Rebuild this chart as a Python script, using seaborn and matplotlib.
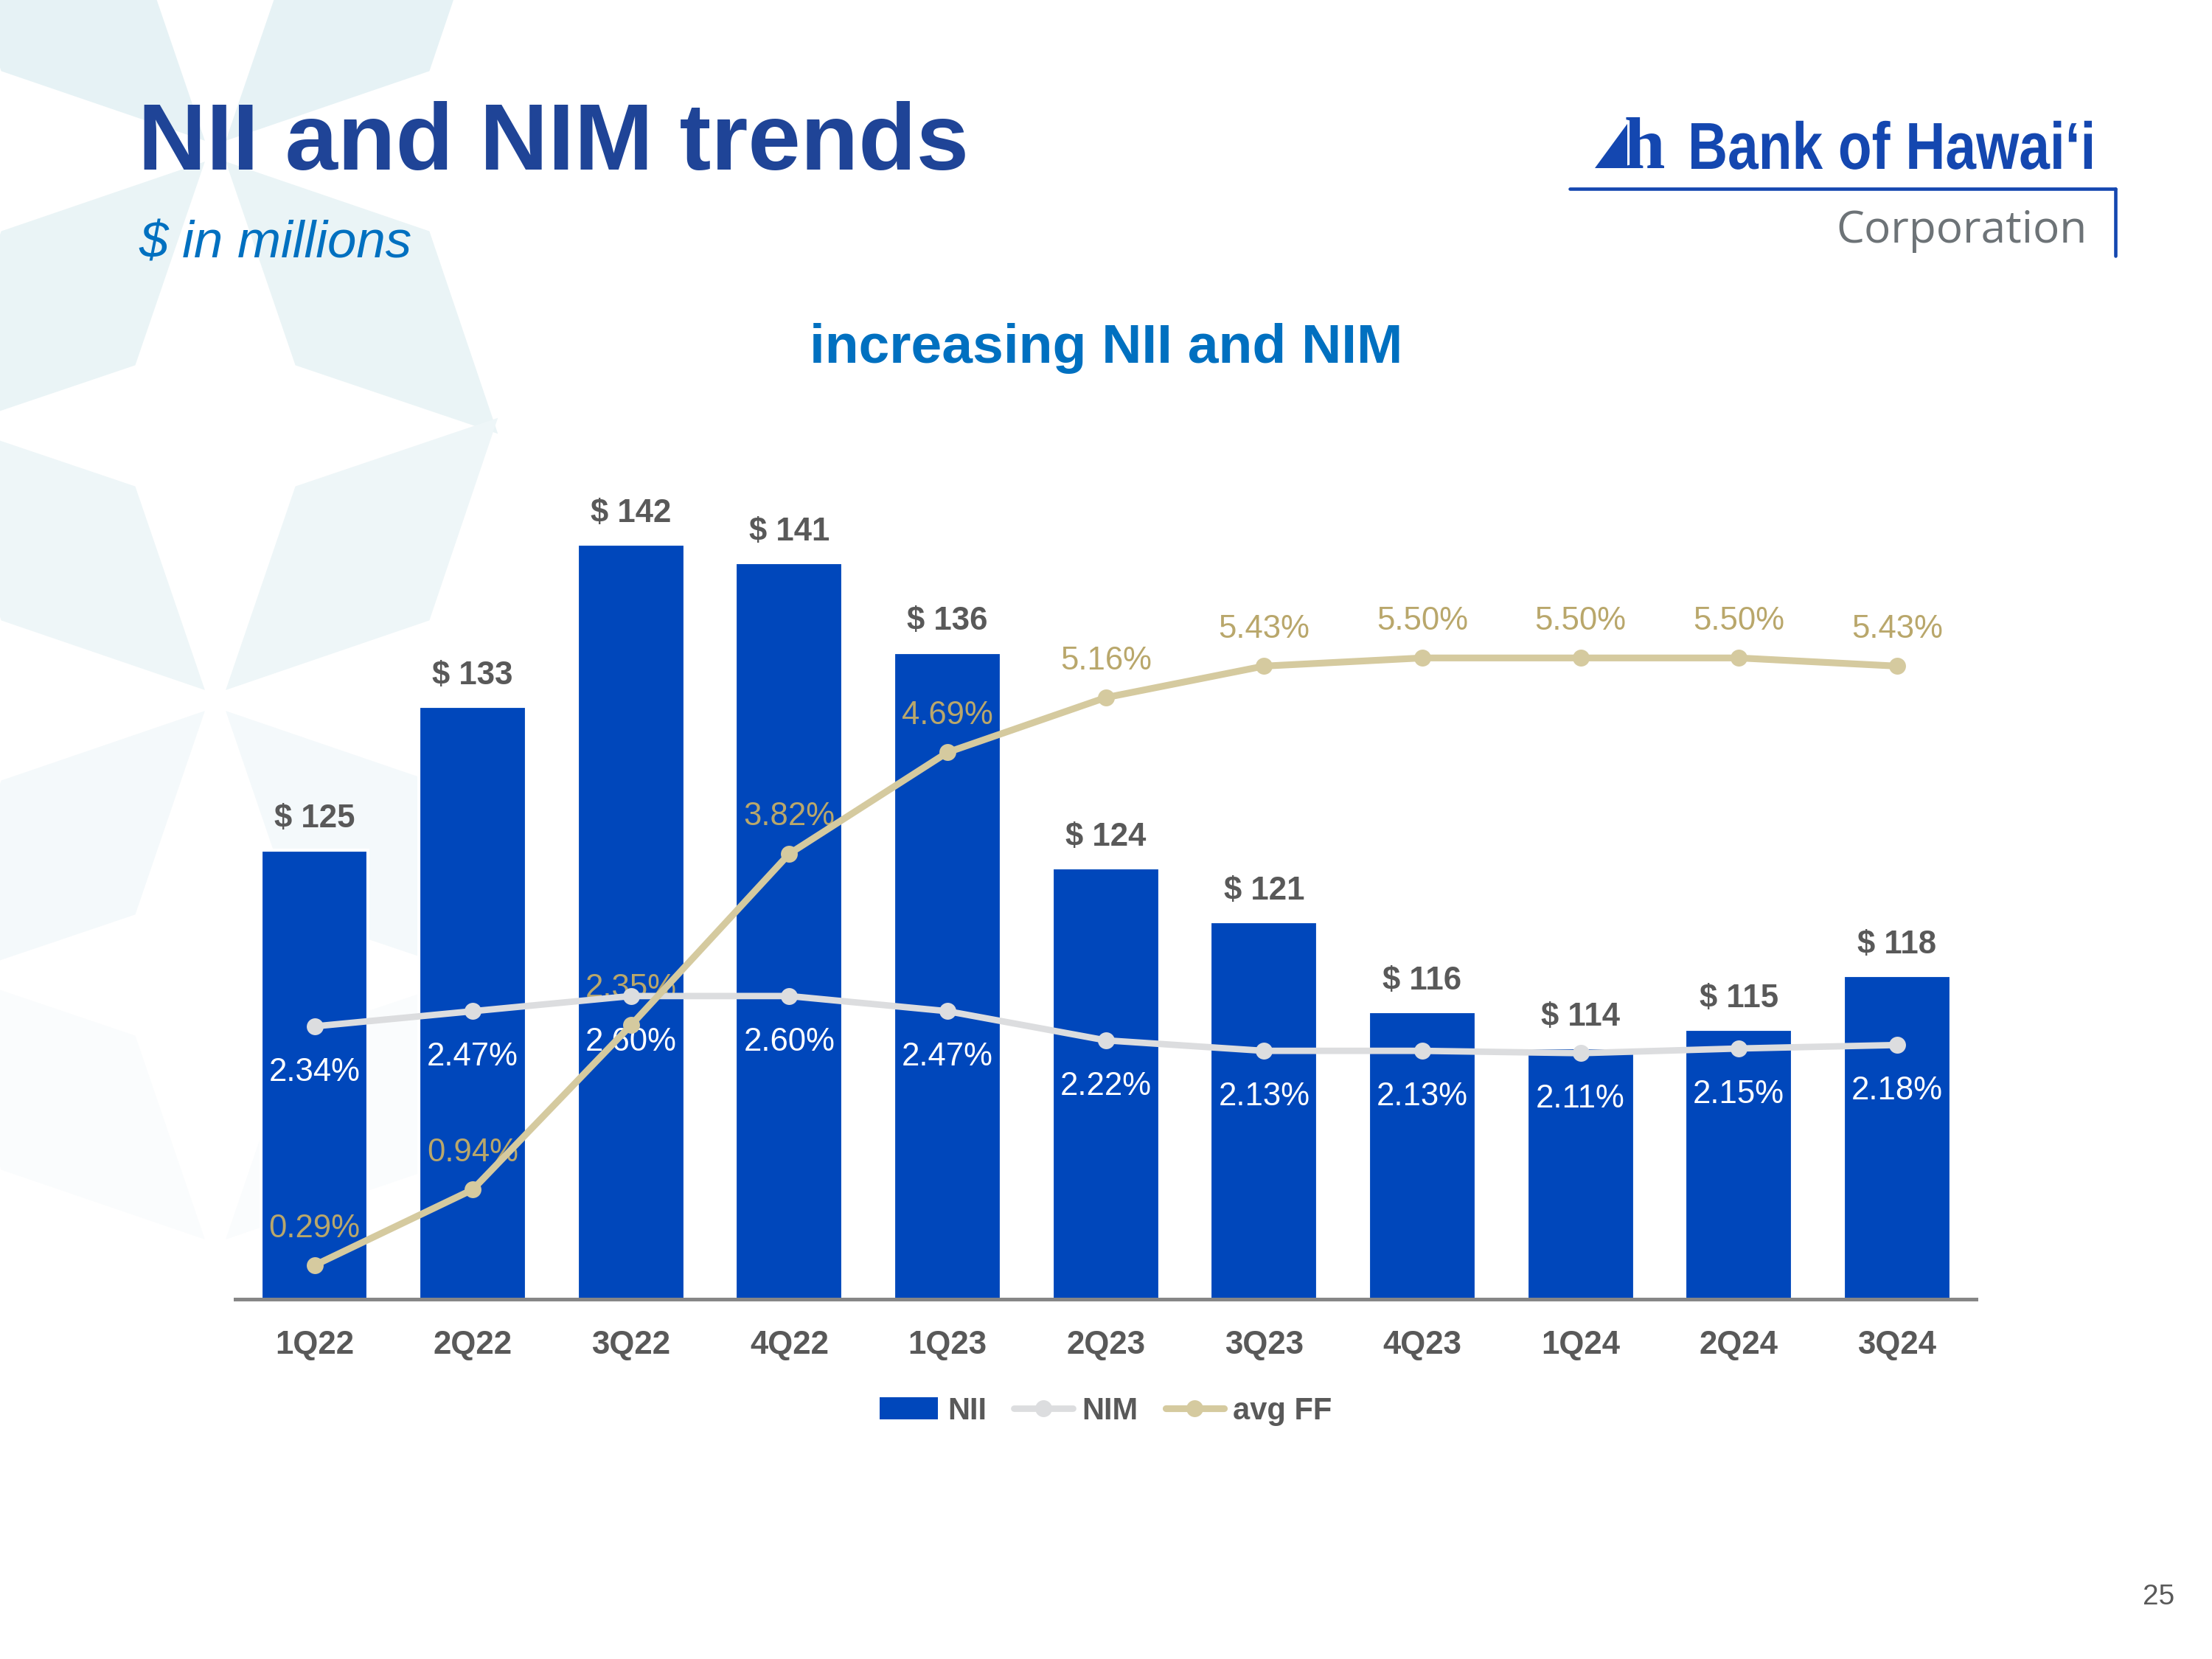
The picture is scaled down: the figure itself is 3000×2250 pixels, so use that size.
import matplotlib
matplotlib.use("Agg")
import matplotlib.pyplot as plt
from matplotlib.patches import Polygon, Patch, PathPatch
from matplotlib.lines import Line2D
from matplotlib.textpath import TextPath
from matplotlib.font_manager import FontProperties
from matplotlib.transforms import Affine2D
from matplotlib.colors import to_rgb
import seaborn as sns
import numpy as np
import pandas as pd

# ---- data ----
quarters = ["1Q22", "2Q22", "3Q22", "4Q22", "1Q23", "2Q23", "3Q23", "4Q23", "1Q24", "2Q24", "3Q24"]
nii = [125, 133, 142, 141, 136, 124, 121, 116, 114, 115, 118]
nim = [2.34, 2.47, 2.60, 2.60, 2.47, 2.22, 2.13, 2.13, 2.11, 2.15, 2.18]
avg_ff = [0.29, 0.94, 2.35, 3.82, 4.69, 5.16, 5.43, 5.50, 5.50, 5.50, 5.43]

C = {
    'bar': '#0047BB', 'nim': '#DCDDDF', 'ff': '#D5CA9F', 'ff_txt': '#B9A76B',
    'title': '#1F4497', 'sub': '#0070C0', 'gray': '#595959', 'axis': '#868686',
    'logo': '#1447B0', 'corp': '#6D7377', 'star': '#E6F2F5',
}

sns.set_theme(style="white")
plt.rcParams['font.family'] = ['Liberation Sans', 'DejaVu Sans']

W, H = 3000, 2250
fig = plt.figure(figsize=(10, 7.5), dpi=300, facecolor='white')

# background star pattern (decorative, pixel coords of the slide)
bg = fig.add_axes([0, 0, 1, 1], zorder=-5)
bg.set_xlim(0, W)
bg.set_ylim(H, 0)
bg.axis('off')
base = np.array(to_rgb(C['star']))
for cx, cy in [(292, 205), (292, 950), (292, 1695)]:
    for ang in [-45, -135, 45, 135]:
        a = np.deg2rad(ang)
        pts = []
        for r, da in [(20, 0), (310, -24.5), (542, 0), (310, 24.5)]:
            b = a + np.deg2rad(da)
            pts.append((cx + r * np.cos(b), cy + r * np.sin(b)))
        yc = np.mean([p[1] for p in pts])
        t = np.clip(yc / 1800, 0, 1) ** 1.3
        col = base * (1 - t) + np.ones(3) * t
        bg.add_patch(Polygon(pts, closed=True, facecolor=col, edgecolor='none'))

# ---- chart ----
df = pd.DataFrame({'quarter': quarters, 'NII': nii, 'NIM': nim, 'avg FF': avg_ff})
x = np.arange(len(df))

ax = fig.add_axes([0.1064, 0.2169, 0.787, 0.5622])
ax.patch.set_alpha(0)
sns.barplot(data=df, x='quarter', y='NII', color=C['bar'], width=0.68,
            saturation=1, ax=ax)
ax.set_xlim(-0.5, len(df) - 0.5)
ax.set_ylim(100, 151.9)
ax.set_xlabel('')
ax.set_ylabel('')
ax.set_yticks([])
ax.tick_params(axis='x', length=0, pad=10, labelsize=10.5, labelcolor=C['gray'])
for lbl in ax.get_xticklabels():
    lbl.set_fontweight('bold')
for s in ['left', 'right', 'top']:
    ax.spines[s].set_visible(False)
ax.spines['bottom'].set_color(C['axis'])
ax.spines['bottom'].set_linewidth(1.2)

for xi, v in zip(x, nii):
    ax.annotate(f"$ {v}", (xi, v), xytext=(0, 10), textcoords='offset points',
                ha='center', va='center', fontsize=10.5, fontweight='bold', color=C['gray'])

ax2 = ax.twinx()
sns.lineplot(x=x, y=df['NIM'].values, ax=ax2, color=C['nim'], linewidth=2.1,
             marker='o', markersize=5.5, markeredgewidth=0, sort=False, zorder=3)
sns.lineplot(x=x, y=df['avg FF'].values, ax=ax2, color=C['ff'], linewidth=2.2,
             marker='o', markersize=5.5, markeredgewidth=0, sort=False, zorder=3)
ax2.set_ylim(0, 8)
ax2.set_yticks([])
ax2.set_ylabel('')
for s in ax2.spines.values():
    s.set_visible(False)

for xi, v in zip(x, nim):
    ax2.annotate(f"{v:.2f}%", (xi, v), xytext=(0, -15), textcoords='offset points',
                 ha='center', va='center', fontsize=10.5, color='white', zorder=1)
for xi, v in zip(x, avg_ff):
    ax2.annotate(f"{v:.2f}%", (xi, v), xytext=(0, 12), textcoords='offset points',
                 ha='center', va='center', fontsize=10.5, color=C['ff_txt'], zorder=1)

handles = [
    Patch(facecolor=C['bar'], edgecolor='none'),
    Line2D([], [], color=C['nim'], lw=2.1, marker='o', ms=5.5, mew=0),
    Line2D([], [], color=C['ff'], lw=2.2, marker='o', ms=5.5, mew=0),
]
leg = fig.legend(handles, ['NII', 'NIM', 'avg FF'], loc='center', bbox_to_anchor=(0.5, 0.1495),
                 ncol=3, frameon=False, handlelength=1.9, handletextpad=0.3,
                 columnspacing=0.9, prop={'size': 10, 'weight': 'bold'})
for t in leg.get_texts():
    t.set_color(C['gray'])

# ---- slide texts ----
fig.text(187 / W, 1 - 230 / H, "NII and NIM trends", fontsize=30.8, fontweight='bold',
         color=C['title'], ha='left', va='baseline')
fig.text(188 / W, 1 - 350 / H, "$ in millions", fontsize=17, style='italic',
         color=C['sub'], ha='left', va='baseline')
fig.text(0.5, 1 - 492 / H, "increasing NII and NIM", fontsize=18, fontweight='bold',
         color=C['sub'], ha='center', va='baseline')
fig.text(2928 / W, 1 - 2166 / H, "25", fontsize=9.3, color=C['gray'], ha='center', va='center')

# logo
bg.add_patch(Polygon([(2163, 228), (2207, 228), (2207, 168)], closed=True,
                     facecolor=C['logo'], edgecolor='none'))
fig.text(2203 / W, 1 - 228 / H, "h", fontsize=24, fontweight='bold', color=C['logo'],
         family=['Liberation Serif', 'DejaVu Serif'], ha='left', va='baseline')
logo_path = TextPath((0, 0), "Bank of Hawaiʻi", size=90,
                     prop=FontProperties(family='Liberation Sans', weight='bold'))
ext = logo_path.get_extents()
sx = 543 / ext.width
bg.add_patch(PathPatch(logo_path, facecolor=C['logo'], edgecolor='none',
                       transform=Affine2D().translate(-ext.x0, 0).scale(sx, -1)
                       .translate(2294, 229) + bg.transData))
fig.add_artist(Line2D([2129 / W, 2869 / W], [1 - 256 / H, 1 - 256 / H], color=C['logo'], lw=1.1))
fig.add_artist(Line2D([2869 / W, 2869 / W], [1 - 256 / H, 1 - 347 / H], color=C['logo'], lw=1.1))
fig.text(2831 / W, 1 - 329 / H, "Corporation", fontsize=14.5, color=C['corp'],
         family=['Open Sans', 'DejaVu Sans'], ha='right', va='baseline')

fig.savefig('out.png', dpi=300, facecolor='white')
